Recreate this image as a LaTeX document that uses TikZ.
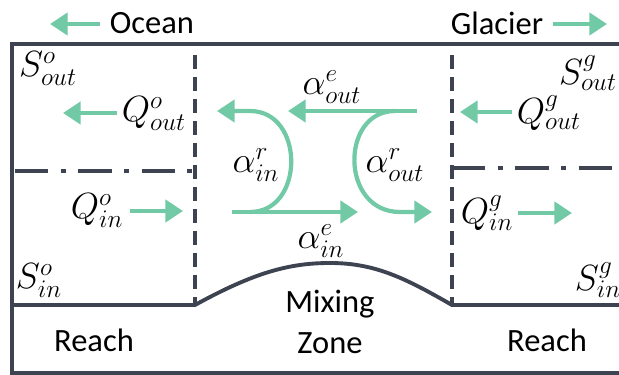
\documentclass[tikz,border=0pt]{standalone}
\usepackage{fontspec}
\setmainfont{Carlito}
\usetikzlibrary{arrows.meta}
\definecolor{wallGray}{RGB}{62,67,82}
\definecolor{flowGreen}{RGB}{113,201,166}
\tikzset{
  wall/.style={draw=wallGray, line width=2.2pt},
  boundary/.style={draw=wallGray, line width=2pt, dash pattern=on 8pt off 4.5pt},
  layer/.style={draw=wallGray, line width=2pt, dash pattern=on 19pt off 7pt on 3pt off 7pt},
  flowArrow/.style={draw=flowGreen, line width=2.4pt, -{Triangle[length=10pt,width=12.5pt]}},
  place/.style={font=\fontsize{18.5}{23}\selectfont, align=center}
}

\begin{document}
\begin{tikzpicture}[x=0.02cm, y=-0.02cm, font=\fontsize{19.5}{22}\selectfont]
  \useasboundingbox (0,0) rectangle (619,375);
  % frame and bed
  \draw[wall] (619,44) -- (12,44) -- (12,373) -- (619,373);
  \draw[wall] (12,305) -- (195,305)
    .. controls (255,272) and (290,263) .. (330,263)
    .. controls (375,263) and (405,278) .. (452,305) -- (619,305);
  \draw[boundary] (195,55) -- (195,305);
  \draw[boundary] (452,55) -- (452,305);
  \draw[layer] (15,171) -- (192,171);
  \draw[layer] (452,168) -- (612,168);

  % labels
  \node[place] (ocean) at (152,23) {Ocean};
  \node[place] (glacier) at (497,23) {Glacier};
  \node (sOutO) at (48,69) {$S^o_{out}$};
  \node (qOutO) at (154,114) {$Q^o_{out}$};
  \node (qInO) at (97,211) {$Q^o_{in}$};
  \node (sInO) at (39,281) {$S^o_{in}$};
  \node (sOutG) at (588,73) {$S^g_{out}$};
  \node (qOutG) at (549,113) {$Q^g_{out}$};
  \node (qInG) at (487,213) {$Q^g_{in}$};
  \node (sInG) at (598,280) {$S^g_{in}$};
  \node (aOutE) at (332,87) {$\alpha^e_{out}$};
  \node (aInR) at (256,165) {$\alpha^r_{in}$};
  \node (aOutR) at (395,165) {$\alpha^r_{out}$};
  \node (aInE) at (321,241) {$\alpha^e_{in}$};
  \node[place] (reachO) at (94,340) {Reach};
  \node[place] (mixing) at (330,322) {Mixing\\Zone};
  \node[place] (reachG) at (547,340) {Reach};

  % flows
  \coordinate (oceanA) at (100,24);  \coordinate (oceanB) at (50,24);
  \coordinate (glacierA) at (553,24); \coordinate (glacierB) at (607,24);
  \coordinate (qOutOA) at (117,113); \coordinate (qOutOB) at (63,113);
  \coordinate (qInOA) at (130,211);  \coordinate (qInOB) at (183,211);
  \coordinate (qOutGA) at (512,112); \coordinate (qOutGB) at (460,112);
  \coordinate (qInGA) at (518,213);  \coordinate (qInGB) at (572,213);
  \coordinate (aOutEA) at (417,111); \coordinate (aOutEB) at (288,111);
  \coordinate (aInEA) at (232,212);  \coordinate (aInEB) at (358,212);
  \foreach \a/\b in {oceanA/oceanB, glacierA/glacierB, qOutOA/qOutOB, qInOA/qInOB,
                     qOutGA/qOutGB, qInGA/qInGB, aOutEA/aOutEB, aInEA/aInEB}
    \draw[flowArrow] (\a) -- (\b);
  \draw[flowArrow] (250,212) .. controls (305,212) and (305,111) .. (250,111) -- (217,111);
  \draw[flowArrow] (395,111) .. controls (340,111) and (340,212) .. (400,212) -- (432,212);
\end{tikzpicture}
\end{document}
